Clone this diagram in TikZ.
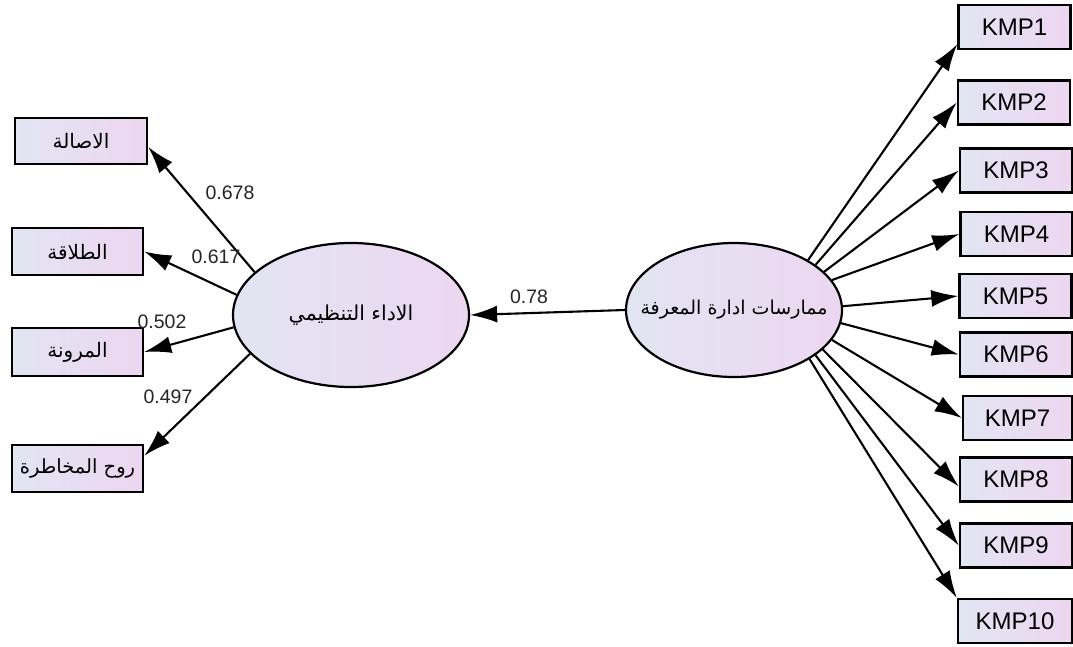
\documentclass[tikz,border=0pt]{standalone}
\usepackage{fontspec}
\setmainfont{Liberation Sans}
\newfontfamily\arabicfont[Script=Arabic]{DejaVu Sans}
\TeXXeTstate=1
\usetikzlibrary{arrows.meta,calc,shapes.geometric}
\definecolor{fillL}{RGB}{226,229,242}
\definecolor{fillR}{RGB}{237,214,241}
\tikzset{
  obs/.style={draw, line width=2.5pt, left color=fillL, right color=fillR,
    inner sep=0pt, minimum width=112pt, minimum height=44pt,
    font=\fontsize{24}{26}\selectfont},
  obsar/.style={obs, minimum width=131pt, minimum height=47pt,
    font=\arabicfont\fontsize{20}{24}\selectfont},
  lat/.style={ellipse, draw, line width=2.2pt, left color=fillL, right color=fillR,
    inner sep=0pt},
  arr/.style={line width=2.1pt, -{Latex[length=27pt,width=17pt]}},
  coef/.style={font=\fontsize{19.5}{22}\selectfont, inner sep=0pt, text=black!85},
}
\begin{document}
\begin{tikzpicture}[x=1pt,y=-1pt]
\useasboundingbox[fill=white] (0,0) rectangle (1073,646);
% latent variables
\node[lat, minimum width=236pt, minimum height=144pt,
  font=\arabicfont\fontsize{20.5}{24}\selectfont] (p) at (351,315) {\makebox[0pt][c]{\beginR الاداء التنظيمي\endR}};
\node[lat, minimum width=216pt, minimum height=134pt,
  font=\arabicfont\fontsize{19}{23}\selectfont] (r) at (734,310) {\makebox[0pt][c]{\beginR ممارسات ادارة المعرفة\endR}};
% left indicators
\node[obsar, minimum width=132pt, minimum height=46pt] (a1) at (81,141) {\beginR الاصالة\endR};
\node[obsar] (a2) at (77.5,251.5) {\beginR الطلاقة\endR};
\node[obsar, minimum height=48pt] (a3) at (77.5,352) {\beginR المرونة\endR};
\node[obsar, font=\arabicfont\fontsize{19.5}{24}\selectfont] (a4) at (77.5,468.5) {\beginR روح المخاطرة\endR};
% right indicators
\node[obs] (k1) at (1014.5,27) {KMP1};
\node[obs] (k2) at (1014,102.5) {KMP2};
\node[obs] (k3) at (1016,170.5) {KMP3};
\node[obs] (k4) at (1016.5,234) {KMP4};
\node[obs] (k5) at (1015.5,296) {KMP5};
\node[obs] (k6) at (1016,354.5) {KMP6};
\node[obs, minimum width=109pt] (k7) at (1017.5,418) {KMP7};
\node[obs] (k8) at (1016,479.5) {KMP8};
\node[obs] (k9) at (1016,545.5) {KMP9};
\node[obs, minimum width=114pt] (k10) at (1015,621) {KMP10};
% structural path
\draw[arr] (r.west) -- (p.east);
\node[coef] (c0) at (529,297) {0.78};
% left loadings
\draw[arr] (p.156) -- ($(a1.east)+(0,6)$);
\draw[arr] (p.170) -- (a2.east);
\draw[arr] (p.186) -- (a3.east);
\draw[arr] (p.201) -- ($(a4.north east)+(0,12)$);
\node[coef] (c1) at (230,193) {0.678};
\node[coef] (c2) at (216,257) {0.617};
\node[coef] (c3) at (162,322) {0.502};
\node[coef] (c4) at (168,397) {0.497};
% right loadings
\draw[arr] (r.34) -- ($(k1.south west)+(0,-6)$);
\draw[arr] (r.29.5) -- (k2.west);
\draw[arr] (r.23.7) -- (k3.west);
\draw[arr] (r.17) -- (k4.west);
\draw[arr] (r.2) -- (k5.west);
\draw[arr] (r.-7) -- (k6.west);
\draw[arr] (r.-17) -- (k7.west);
\draw[arr] (r.-24.8) -- ($(k8.west)+(0,7)$);
\draw[arr] (r.-29.5) -- (k9.west);
\draw[arr] (r.-33) -- (k10.north west);
\end{tikzpicture}
\end{document}
